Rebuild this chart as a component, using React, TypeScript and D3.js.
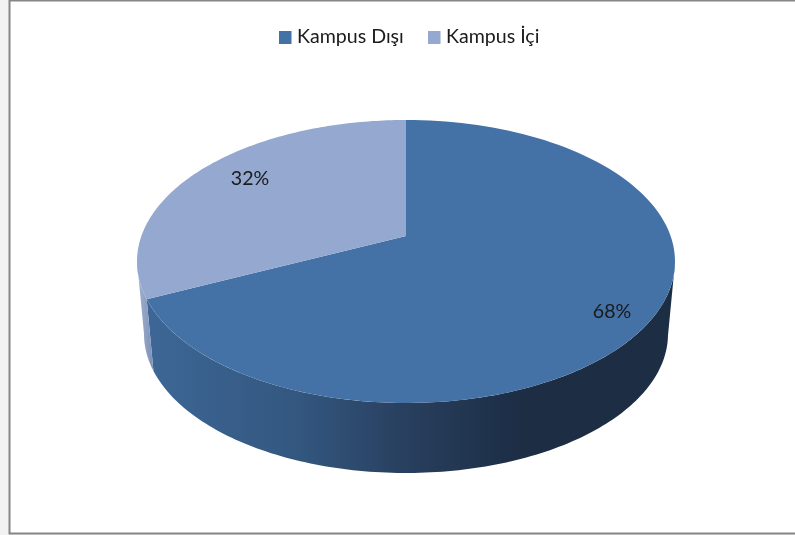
import React from "react";
import * as d3 from "d3";

const categories = ["Kampus Dışı", "Kampus İçi"];
const values = [68, 32];
const labels = ["68%", "32%"];
const topColors = ["#4472a6", "#94a8d0"];

const W = 795, H = 535;
const cx = 406;
const topFace = { cy: 261.5, rx: 269, ry: 141.5 };
const bottomFace = { cy: 334, rx: 262, ry: 139 };
const apexQ = -0.18;

// Perspective map of the flat disc (angle clockwise from top) on to a tilted ellipse
function project(theta: number, f = topFace): [number, number] {
  const u = Math.sin(theta), v = -Math.cos(theta);
  const den = 1 + apexQ * v;
  const p = (u * Math.sqrt(1 - apexQ * apexQ)) / den;
  const q = (v + apexQ) / den;
  return [cx + p * f.rx, f.cy + q * f.ry];
}

const arcs = d3.pie<number>().sort(null)(values);

function slicePath(a: number, b: number) {
  const pts = d3.range(0, 121).map((i) => project(a + ((b - a) * i) / 120));
  const apex: [number, number] = [cx, topFace.cy + apexQ * topFace.ry];
  return d3.line()([apex, ...pts]) + "Z";
}

function sidePath(a: number, b: number) {
  const thetas = d3
    .range(0, 241)
    .map((i) => a + ((b - a) * i) / 240)
    .filter((t) => project(t)[1] >= topFace.cy - 0.3);
  const front = thetas.map((t) => project(t));
  const back = thetas.slice().reverse().map((t) => project(t, bottomFace));
  return d3.line()([...front, ...back]) + "Z";
}

export default function App() {
  return (
    <svg
      width={W}
      height={H}
      viewBox={`0 0 ${W} ${H}`}
      style={{ position: "fixed", left: 0, top: 0, display: "block" }}
    >
      <defs>
        <linearGradient id="sideA" gradientUnits="userSpaceOnUse" x1={137} x2={675} y1={0} y2={0}>
          <stop offset="0" stopColor="#3e6898" />
          <stop offset="0.3" stopColor="#33577f" />
          <stop offset="0.5" stopColor="#283f5e" />
          <stop offset="0.72" stopColor="#1c2d44" />
          <stop offset="1" stopColor="#1c2e44" />
        </linearGradient>
        <linearGradient id="sideB" gradientUnits="userSpaceOnUse" x1={137} x2={152} y1={0} y2={0}>
          <stop offset="0" stopColor="#a3b3d2" />
          <stop offset="1" stopColor="#7f93b8" />
        </linearGradient>
        <filter id="soft" x="-5%" y="-20%" width="110%" height="140%">
          <feGaussianBlur stdDeviation="0.35" />
        </filter>
      </defs>
      <rect x={0} y={0} width={W} height={H} fill="#f2f2f2" />
      <rect x={9.5} y={0.5} width={W} height={533} fill="#ffffff" stroke="#868686" strokeWidth={2} />

      {arcs.map((d, i) => (
        <path key={"s" + i} d={sidePath(d.startAngle, d.endAngle)} fill={i === 0 ? "url(#sideA)" : "url(#sideB)"} />
      ))}
      {arcs.map((d, i) => (
        <path key={"t" + i} d={slicePath(d.startAngle, d.endAngle)} fill={topColors[i]} />
      ))}

      <g fontFamily="Lato" fontSize={19.6} fill="#1a1a1a" filter="url(#soft)">
        <text x={612} y={318} textAnchor="middle">{labels[0]}</text>
        <text x={250} y={185} textAnchor="middle">{labels[1]}</text>
        {categories.map((c, i) => (
          <text key={c} x={i === 0 ? 297 : 446} y={43}>{c}</text>
        ))}
      </g>
      {categories.map((c, i) => (
        <rect key={c} x={i === 0 ? 279 : 428} y={31} width={12.5} height={13} fill={topColors[i]} />
      ))}
    </svg>
  );
}
